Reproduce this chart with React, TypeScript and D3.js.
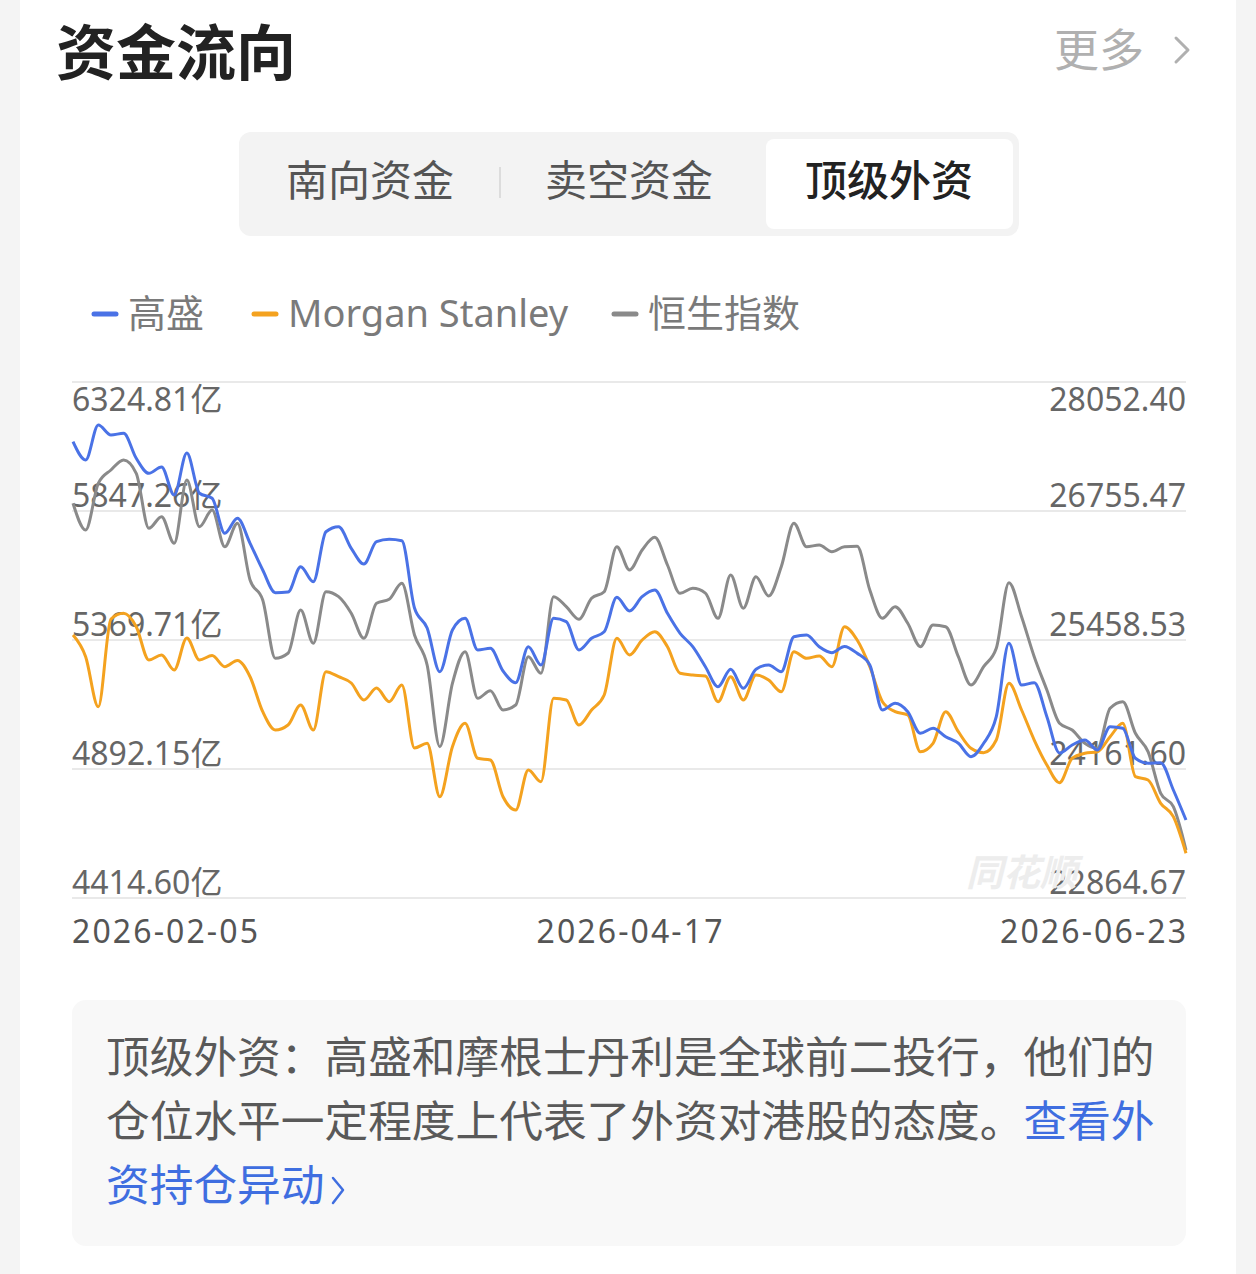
import React from "react";
import * as d3 from "d3";

// 高盛 (亿)
const goldman = [
  6103.8, 6036.1, 6165.6, 6128.6, 6134.9, 6042.3, 5986.8, 6010.1, 5906.5, 6062.0,
  5912.8, 5894.3, 5764.7, 5820.2, 5727.7, 5628.8, 5544.8, 5547.0, 5641.1, 5585.5,
  5770.6, 5789.1, 5709.2, 5651.1, 5733.6, 5742.5, 5737.0, 5488.2, 5414.1, 5252.4,
  5406.7, 5450.0, 5332.7, 5339.0, 5254.9, 5211.6, 5344.9, 5277.2, 5450.0, 5437.5,
  5332.7, 5376.0, 5400.4, 5527.8, 5477.1, 5530.0, 5554.8, 5468.5, 5394.5, 5344.9,
  5270.9, 5196.8, 5261.2, 5190.9, 5261.2, 5277.2, 5252.4, 5381.9, 5388.2, 5344.9,
  5322.7, 5346.0, 5320.5, 5277.2, 5110.6, 5135.4, 5104.3, 5024.3, 5042.8, 5011.7,
  4987.3, 4937.7, 4987.3, 5085.8, 5357.5, 5203.1, 5211.6, 5085.8, 4951.4, 4981.0,
  4999.5, 4962.5, 5048.8, 5042.8, 4931.8, 4913.3, 4915.0, 4814.4, 4703.4,
];

// Morgan Stanley (亿)
const morgan = [
  5388.2, 5307.9, 5122.8, 5447.4, 5468.5, 5418.9, 5295.7, 5314.2, 5258.7, 5377.1,
  5295.7, 5312.0, 5270.9, 5294.0, 5233.8, 5104.3, 5036.5, 5055.0, 5129.1, 5036.5,
  5252.4, 5233.8, 5210.5, 5147.6, 5192.0, 5141.3, 5203.1, 4969.9, 4987.3, 4789.6,
  4974.7, 5061.3, 4931.8, 4925.5, 4789.6, 4740.4, 4888.5, 4845.2, 5153.9, 5147.6,
  5055.0, 5110.6, 5166.1, 5376.0, 5314.2, 5369.7, 5400.4, 5344.9, 5246.4, 5240.1,
  5236.4, 5141.3, 5233.8, 5147.6, 5240.1, 5221.6, 5178.3, 5326.4, 5302.0, 5310.5,
  5270.9, 5418.9, 5369.7, 5270.9, 5141.3, 5104.3, 5092.1, 4956.2, 4987.3, 5104.3,
  5030.2, 4968.8, 4952.5, 4999.5, 5209.4, 5110.6, 4999.5, 4907.0, 4841.5, 4931.8,
  4950.3, 4956.2, 5011.7, 5061.3, 4863.7, 4851.4, 4765.2, 4715.6, 4580.1,
];

// 恒生指数
const hsi = [
  26832.9, 26564.5, 27034.0, 27167.7, 27268.2, 27134.5, 26581.5, 26698.2, 26430.7, 27067.1,
  26597.6, 26765.5, 26396.6, 26631.8, 26061.8, 25860.7, 25274.6, 25324.8, 25760.2, 25425.4,
  25944.1, 25893.9, 25727.0, 25475.6, 25827.5, 25867.7, 26028.6, 25508.8, 25207.2, 24385.8,
  25023.2, 25340.9, 24872.4, 24948.8, 24754.8, 24805.1, 25290.6, 25123.8, 25893.9, 25793.3,
  25666.7, 25877.8, 25944.1, 26396.6, 26162.3, 26363.4, 26491.1, 26212.6, 25928.1, 25978.3,
  25930.0, 25676.7, 26112.0, 25777.2, 26094.9, 25900.9, 26195.5, 26631.8, 26396.6, 26413.6,
  26346.3, 26396.6, 26400.0, 25961.2, 25676.7, 25793.3, 25626.4, 25391.2, 25609.4, 25592.3,
  25290.6, 25006.1, 25190.1, 25375.1, 26034.6, 25692.8, 25290.6, 24955.9, 24621.1, 24553.7,
  24420.0, 24369.7, 24771.9, 24838.2, 24520.5, 24335.5, 23917.3, 23782.6, 23347.3,
];

const leftTicks = [6324.81, 5847.26, 5369.71, 4892.15, 4414.6];
const rightTicks = [28052.4, 26755.47, 25458.53, 24161.6, 22864.67];
const dateLabels = ["2026-02-05", "2026-04-17", "2026-06-23"];
const tabs = ["南向资金", "卖空资金", "顶级外资"];
const seriesNames = ["高盛", "Morgan Stanley", "恒生指数"];

const BLUE = "#4a72e6";
const ORANGE = "#f4a21f";
const GRAY = "#8a8a8a";
const CJK = "'Noto Sans CJK SC', 'Noto Sans', sans-serif";
const NUM = "'Noto Sans', 'Noto Sans CJK SC', sans-serif";

export default function App() {
  const W = 1256;
  const H = 1274;
  const x0 = 73;
  const x1 = 1186;
  const yTop = 382;
  const yBot = 898;

  const x = d3.scaleLinear().domain([0, goldman.length - 1]).range([x0, x1]);
  const yL = d3.scaleLinear().domain([leftTicks[4], leftTicks[0]]).range([yBot, yTop]);
  const yR = d3.scaleLinear().domain([rightTicks[4], rightTicks[0]]).range([yBot, yTop]);

  const lineL = d3
    .line<number>()
    .x((_, i) => x(i))
    .y((d) => yL(d))
    .curve(d3.curveMonotoneX);
  const lineR = d3
    .line<number>()
    .x((_, i) => x(i))
    .y((d) => yR(d))
    .curve(d3.curveMonotoneX);

  const tabCenters = [370, 629, 889];
  const legendX = [92, 252, 612];
  const legendColors = [BLUE, ORANGE, GRAY];

  return (
    <svg
      width={W}
      height={H}
      viewBox={`0 0 ${W} ${H}`}
      style={{ position: "absolute", left: 0, top: 0, display: "block" }}
    >
      <rect x={0} y={0} width={W} height={H} fill="#f4f4f4" />
      <rect x={20} y={0} width={1216} height={H} fill="#ffffff" />

      {/* Header */}
      <text x={56} y={75} fontFamily={CJK} fontWeight={700} fontSize={60} fill="#222">
        资金流向
      </text>
      <text x={1054} y={67} fontFamily={CJK} fontSize={45} fill="#b0b0b0">
        更多
      </text>
      <path d="M1176,38 L1188,50 L1176,62" fill="none" stroke="#b0b0b0" strokeWidth={3} strokeLinecap="round" strokeLinejoin="round" />

      {/* Tabs */}
      <rect x={239} y={132} width={780} height={104} rx={12} fill="#f3f3f3" />
      <rect x={766} y={139} width={247} height={90} rx={8} fill="#ffffff" />
      <line x1={500} y1={167} x2={500} y2={198} stroke="#dcdcdc" strokeWidth={2} />
      {tabs.map((t, i) => (
        <text
          key={t}
          x={tabCenters[i]}
          y={196}
          textAnchor="middle"
          fontFamily={CJK}
          fontSize={42}
          fontWeight={i === 2 ? 500 : 400}
          fill={i === 2 ? "#222" : "#555"}
        >
          {t}
        </text>
      ))}

      {/* Legend */}
      {seriesNames.map((n, i) => (
        <g key={n}>
          <line x1={legendX[i] + 2} y1={314} x2={legendX[i] + 24} y2={314} stroke={legendColors[i]} strokeWidth={5} strokeLinecap="round" />
          <text x={legendX[i] + 36} y={327} fontFamily={i === 1 ? "'Noto Sans', sans-serif" : CJK} fontSize={38} fill="#7a7a7a">
            {n}
          </text>
        </g>
      ))}

      {/* Gridlines */}
      {leftTicks.map((t, i) => (
        <line key={"g" + i} x1={72} x2={1186} y1={yL(t)} y2={yL(t)} stroke="#e9e9e9" strokeWidth={2} />
      ))}

      {/* Axis labels */}
      {leftTicks.map((t, i) => (
        <text
          key={"l" + i}
          x={72}
          y={i === 0 ? yL(t) + 29 : yL(t) - 4}
          fontFamily={NUM}
          fontSize={32}
          fill="#666"
        >
          {t.toFixed(2)}亿
        </text>
      ))}
      {rightTicks.map((t, i) => (
        <text
          key={"r" + i}
          x={1186}
          y={i === 0 ? yR(t) + 29 : yR(t) - 4}
          textAnchor="end"
          fontFamily={NUM}
          fontSize={32}
          fill="#666"
        >
          {t.toFixed(2)}
        </text>
      ))}

      {/* Watermark */}
      <text x={966} y={886} fontFamily={CJK} fontSize={37} fontWeight={700} fontStyle="italic" fill="#ededed">
        同花顺
      </text>

      {/* Lines */}
      <path d={lineR(hsi) || ""} fill="none" stroke={GRAY} strokeWidth={3} strokeLinejoin="round" />
      <path d={lineL(morgan) || ""} fill="none" stroke={ORANGE} strokeWidth={3} strokeLinejoin="round" />
      <path d={lineL(goldman) || ""} fill="none" stroke={BLUE} strokeWidth={3} strokeLinejoin="round" />

      {/* Date labels */}
      {dateLabels.map((d, i) => (
        <text
          key={d}
          x={i === 0 ? 72 : i === 1 ? (x0 + x1) / 2 : 1186}
          y={943}
          textAnchor={i === 0 ? "start" : i === 1 ? "middle" : "end"}
          fontFamily={NUM}
          fontSize={32}
          fill="#555"
          textLength={186}
          lengthAdjust="spacing"
        >
          {d}
        </text>
      ))}

      {/* Info box */}
      <rect x={72} y={1000} width={1114} height={246} rx={14} fill="#f8f8f8" />
      <text fontFamily={CJK} fontSize={43.7} fill="#595959">
        <tspan x={106} y={1073}>顶级外资：高盛和摩根士丹利是全球前二投行，他们的</tspan>
        <tspan x={106} y={1137}>仓位水平一定程度上代表了外资对港股的态度。</tspan>
        <tspan fill="#3f6ee0">查看外</tspan>
        <tspan x={106} y={1201} fill="#3f6ee0">资持仓异动</tspan>
      </text>
      <path d="M333,1178 L343,1190 L333,1203" fill="none" stroke="#3f6ee0" strokeWidth={2.5} strokeLinecap="round" strokeLinejoin="round" />
    </svg>
  );
}
